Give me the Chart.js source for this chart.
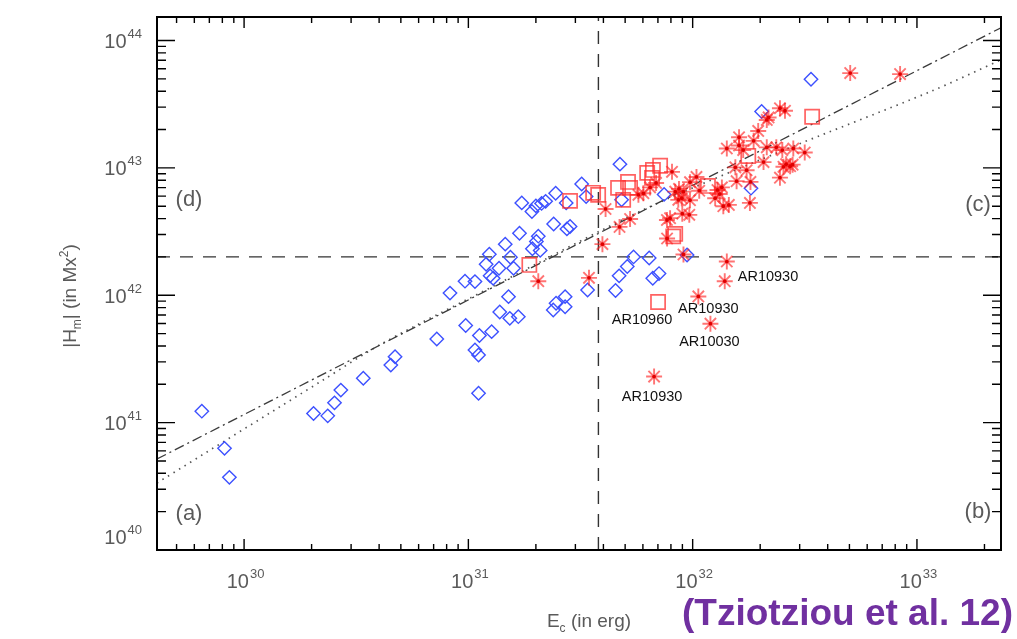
<!DOCTYPE html>
<html>
<head>
<meta charset="utf-8">
<script src="https://cdn.jsdelivr.net/npm/chart.js@4.4.1/dist/chart.umd.min.js"></script>
<style>
  html, body { margin: 0; padding: 0; background: #fff; }
  #wrap { width: 1017px; height: 639px; position: relative; }
</style>
</head>
<body>
<div id="wrap"><canvas id="chart"></canvas></div>
<script>
// ===== axis ranges =====
const xMin = 4.09e29, xMax = 2.37e33;   // E_c (erg)
const yMin = 1e40, yMax = 1.53e44;      // |H_m| (Mx^2)
const xDecades = [29, 30, 31, 32, 33];
const yDecades = [40, 41, 42, 43, 44];
const xTickValues = [1e30, 1e31, 1e32, 1e33];
const xTickExp = ['30', '31', '32', '33'];
const yTickValues = [1e40, 1e41, 1e42, 1e43, 1e44];
const yTickExp = ['40', '41', '42', '43', '44'];

// ===== blue diamonds =====
const blueE = [6.48e29, 8.18e29, 8.6e29, 2.04e30, 2.36e30, 2.53e30, 2.70e30, 3.40e30, 4.51e30, 4.71e30,
  7.23e30, 8.28e30, 9.66e30, 1.07e31, 1.20e31, 1.24e31, 1.25e31, 1.29e31, 1.37e31, 1.38e31,
  9.73e30, 1.12e31, 1.27e31, 1.07e31, 1.11e31, 1.11e31, 1.46e31, 1.54e31, 1.59e31, 1.69e31,
  1.73e31, 1.92e31, 2.0e31, 2.12e31, 2.21e31, 2.05e31, 2.01e31, 1.93e31, 2.09e31, 1.51e31,
  1.53e31, 1.67e31, 2.40e31, 2.75e31, 2.84e31, 2.45e31, 2.73e31, 3.20e31, 3.35e31, 4.74e31,
  4.82e31, 2.46e31, 2.39e31, 2.70e31, 2.70e31, 3.40e31, 5.45e31, 6.40e31, 5.11e31, 4.70e31,
  4.53e31, 6.64e31, 7.08e31, 9.44e31, 7.46e31, 1.82e32, 2.03e32, 3.37e32];
const blueH = [1.23e41, 6.28e40, 3.72e40, 1.18e41, 1.13e41, 1.43e41, 1.80e41, 2.23e41, 2.83e41, 3.29e41,
  4.54e41, 1.04e42, 1.29e42, 1.28e42, 1.75e42, 2.10e42, 1.42e42, 1.36e42, 1.63e42, 7.39e41,
  5.79e41, 4.83e41, 5.18e41, 3.72e41, 3.40e41, 1.70e41, 2.52e42, 1.99e42, 1.63e42, 3.07e42,
  5.31e42, 4.55e42, 5.03e42, 5.26e42, 5.46e42, 2.91e42, 2.64e42, 2.32e42, 2.25e42, 9.75e41,
  6.59e41, 6.79e41, 3.63e42, 3.32e42, 3.47e42, 6.32e42, 5.31e42, 7.48e42, 5.95e42, 1.07e43,
  5.61e42, 8.65e41, 7.67e41, 9.75e41, 8.13e41, 1.10e42, 2.0e42, 1.96e42, 1.68e42, 1.42e42,
  1.09e42, 1.36e42, 1.48e42, 2.07e42, 6.19e42, 6.93e42, 2.77e43, 4.97e43];

// ===== red squares =====
const squareE = [1.87e31, 2.84e31, 3.60e31, 3.79e31, 4.65e31, 4.90e31, 5.15e31, 5.26e31, 6.27e31,
  6.65e31, 6.59e31, 7.16e31, 8.36e31, 8.19e31, 1.17e32, 1.77e32, 3.41e32, 7.01e31];
const squareH = [1.73e42, 5.51e42, 6.37e42, 6.14e42, 6.97e42, 5.61e42, 7.76e42, 6.97e42, 9.14e42,
  9.64e42, 8.35e42, 1.04e43, 3.03e42, 2.90e42, 7.22e42, 1.24e43, 2.52e43, 8.86e41];

// ===== red asterisks =====
const starE = [2.05e31, 3.45e31, 3.96e31, 4.09e31, 4.72e31, 5.26e31, 5.73e31, 6.03e31, 6.46e31, 7.68e31,
  7.69e31, 8.09e31, 9.10e31, 1.06e32, 1.20e32, 6.73e31, 1.42e32, 1.39e32, 5.04e32, 8.41e32,
  2.45e32, 2.58e32, 2.18e32, 2.14e32, 1.96e32, 1.61e32, 1.61e32, 1.68e32, 1.87e32, 1.42e32,
  2.14e32, 2.36e32, 2.51e32, 2.81e32, 3.16e32, 2.07e32, 1.55e32, 1.74e32, 2.61e32, 2.72e32,
  2.54e32, 2.79e32, 2.45e32, 1.57e32, 1.81e32, 1.80e32, 1.04e32, 9.73e31, 8.69e31, 8.36e31,
  9.10e31, 8.94e31, 1.07e32, 1.29e32, 1.32e32, 1.26e32, 1.35e32, 8.63e31, 9.73e31, 1.45e32,
  1.37e32, 7.93e31, 8.99e31, 9.66e31, 6.87e31];
const starH = [1.29e42, 1.37e42, 2.52e42, 4.76e42, 3.44e42, 3.97e42, 6.14e42, 6.32e42, 7.03e42, 3.90e42,
  2.79e42, 9.31e42, 2.09e42, 9.79e41, 5.98e41, 2.30e41, 1.84e42, 1.29e42, 5.55e43, 5.45e43,
  2.94e43, 2.81e43, 2.49e43, 2.38e43, 1.95e43, 1.74e43, 1.50e43, 1.38e43, 1.63e43, 1.42e43,
  1.45e43, 1.45e43, 1.38e43, 1.42e43, 1.32e43, 1.11e43, 1.01e43, 9.59e42, 1.07e43, 1.03e43,
  1.02e43, 1.06e43, 8.38e42, 7.87e42, 7.76e42, 5.31e42, 8.49e42, 7.73e42, 6.84e42, 6.51e42,
  6.51e42, 5.78e42, 6.62e42, 6.71e42, 6.23e42, 5.78e42, 7.03e42, 5.61e42, 5.57e42, 5.12e42,
  5.00e42, 4.03e42, 4.37e42, 4.28e42, 7.62e42];

// ===== fits and thresholds =====
const fitE = [4.09e29, 2.37e33];            // dash-dot power law
const fitH = [5.18e40, 1.26e44];
const curveE = [4.09e29, 2.25e30, 4.17e30, 1.38e31, 6.01e31, 2.45e32, 1.14e33, 2.37e33]; // dotted
const curveH = [3.36e40, 2.16e41, 4.22e41, 1.25e42, 4.68e42, 1.34e43, 3.95e43, 7.05e43];
const eThresh = 3.8e31;
const hThresh = 2e42;

// ===== labelled active regions =====
const arNames = ['AR10930', 'AR10930', 'AR10960', 'AR10030', 'AR10930'];
const arE = [1.39e32, 1.06e32, 7.01e31, 1.20e32, 6.73e31];
const arH = [1.29e42, 9.79e41, 8.86e41, 5.98e41, 2.30e41];
const arOffsets = [[13, -4, 'left'], [10, 13, 'center'], [-16, 18, 'center'], [-1, 18, 'center'], [-2, 20, 'center']];

const FONT = '"Liberation Sans", Arial, sans-serif';
const GREY = '#5a5a5a';

const pts = (xs, ys) => xs.map((v, i) => ({ x: v, y: ys[i] }));

function powLabel(ctx, exp, x, yb, align) {
  ctx.font = '20px ' + FONT;
  const wb = ctx.measureText('10').width;
  ctx.font = '13px ' + FONT;
  const we = ctx.measureText(exp).width;
  const w = wb + 1 + we;
  const x0 = align === 'right' ? x - w : x - w / 2;
  ctx.textAlign = 'left';
  ctx.textBaseline = 'alphabetic';
  ctx.font = '20px ' + FONT;
  ctx.fillText('10', x0, yb);
  ctx.font = '13px ' + FONT;
  ctx.fillText(exp, x0 + wb + 1, yb - 10);
}

function richText(ctx, segs, cx, yb) {
  let w = 0;
  segs.forEach(s => { ctx.font = s.size + 'px ' + FONT; s.w = ctx.measureText(s.t).width; w += s.w; });
  let xx = cx - w / 2;
  ctx.textAlign = 'left';
  ctx.textBaseline = 'alphabetic';
  segs.forEach(s => {
    ctx.font = s.size + 'px ' + FONT;
    ctx.fillText(s.t, xx, yb + (s.dy || 0));
    xx += s.w;
  });
}

// frame, inward ticks, labels
const framePlugin = {
  id: 'frame',
  afterDraw(chart) {
    const { ctx, chartArea: a, scales: { x, y } } = chart;
    ctx.save();

    ctx.strokeStyle = '#000';
    ctx.lineWidth = 2;
    ctx.strokeRect(a.left, a.top, a.right - a.left, a.bottom - a.top);

    ctx.lineWidth = 1.4;
    ctx.beginPath();
    yDecades.forEach(n => {
      for (let m = 1; m < 10; m++) {
        const v = m * Math.pow(10, n);
        if (v <= yMin || v >= yMax) continue;
        const py = y.getPixelForValue(v);
        const len = m === 1 ? 18 : 9;
        ctx.moveTo(a.left, py); ctx.lineTo(a.left + len, py);
        ctx.moveTo(a.right, py); ctx.lineTo(a.right - len, py);
      }
    });
    xDecades.forEach(n => {
      for (let m = 1; m < 10; m++) {
        const v = m * Math.pow(10, n);
        if (v <= xMin || v >= xMax) continue;
        const px = x.getPixelForValue(v);
        const len = m === 1 ? 11 : 6;
        ctx.moveTo(px, a.bottom); ctx.lineTo(px, a.bottom - len);
        ctx.moveTo(px, a.top); ctx.lineTo(px, a.top + len);
      }
    });
    ctx.stroke();

    // tick labels
    ctx.fillStyle = GREY;
    yTickValues.forEach((v, i) => {
      let py = y.getPixelForValue(v);
      if (py > a.bottom - 10) py = a.bottom - 14;
      powLabel(ctx, yTickExp[i], a.left - 15, py + 7.6, 'right');
    });
    xTickValues.forEach((v, i) => {
      const px = x.getPixelForValue(v);
      powLabel(ctx, xTickExp[i], px + 1.5, a.bottom + 38, 'center');
    });

    // axis titles
    richText(ctx, [{ t: 'E', size: 19 }, { t: 'c', size: 12, dy: 5 }, { t: ' (in erg)', size: 19 }], 589, 627);
    ctx.save();
    ctx.translate(76, 296);
    ctx.rotate(-Math.PI / 2);
    richText(ctx, [{ t: '|H', size: 19 }, { t: 'm', size: 12, dy: 5 }, { t: '| (in Mx', size: 19 },
      { t: '2', size: 12, dy: -8 }, { t: ')', size: 19 }], 0, 0);
    ctx.restore();

    // quadrant tags
    ctx.font = '22px ' + FONT;
    ctx.textAlign = 'center';
    ctx.textBaseline = 'middle';
    ctx.fillText('(d)', a.left + 32, a.top + 183);
    ctx.fillText('(c)', a.right - 23, a.top + 188);
    ctx.fillText('(a)', a.left + 32, a.bottom - 36);
    ctx.fillText('(b)', a.right - 23, a.bottom - 38);

    // active region names
    ctx.fillStyle = '#111';
    ctx.font = '14.5px ' + FONT;
    arNames.forEach((name, i) => {
      const [dx, dy, al] = arOffsets[i];
      ctx.textAlign = al;
      ctx.fillText(name, x.getPixelForValue(arE[i]) + dx, y.getPixelForValue(arH[i]) + dy);
    });

    // citation
    ctx.fillStyle = '#7030A0';
    ctx.font = 'bold 37px ' + FONT;
    ctx.textAlign = 'right';
    ctx.textBaseline = 'alphabetic';
    ctx.fillText('(Tziotziou et al. 12)', 1013, 625);

    ctx.restore();
  }
};

new Chart(document.getElementById('chart'), {
  type: 'scatter',
  data: {
    datasets: [
      { label: 'star centres', data: pts(starE, starH), pointStyle: 'circle', pointRadius: 1.9,
        backgroundColor: '#e00000', borderWidth: 0 },
      { label: 'active regions (stars)', data: pts(starE, starH), pointStyle: 'star', pointRadius: 8,
        borderColor: 'rgba(255,30,30,0.62)', backgroundColor: 'transparent', borderWidth: 1.9 },
      { label: 'squares', data: pts(squareE, squareH), pointStyle: 'rect', pointRadius: 10,
        borderColor: 'rgba(255,45,45,0.75)', backgroundColor: 'transparent', borderWidth: 1.7 },
      { label: 'diamonds', data: pts(blueE, blueH), pointStyle: 'rectRot', pointRadius: 6.7,
        borderColor: 'rgb(60,80,255)', backgroundColor: 'transparent', borderWidth: 1.4 },
      { label: 'fit', type: 'line', data: pts(fitE, fitH), borderColor: '#3a3a3a', borderWidth: 1.3,
        borderDash: [10, 4, 2, 4], pointRadius: 0, fill: false },
      { label: 'curve', type: 'line', data: pts(curveE, curveH), borderColor: '#555', borderWidth: 1.7,
        borderDash: [1.5, 5], pointRadius: 0, fill: false, tension: 0.3 },
      { label: 'E threshold', type: 'line', data: [{ x: eThresh, y: yMin }, { x: eThresh, y: yMax }],
        borderColor: '#333', borderWidth: 1.4, borderDash: [13, 10], pointRadius: 0, fill: false },
      { label: 'H threshold', type: 'line', data: [{ x: xMin, y: hThresh }, { x: xMax, y: hThresh }],
        borderColor: '#333', borderWidth: 1.4, borderDash: [13, 10], pointRadius: 0, fill: false }
    ]
  },
  options: {
    responsive: true,
    maintainAspectRatio: false,
    animation: false,
    events: [],
    layout: { padding: { left: 157, top: 17, right: 16, bottom: 89 } },
    plugins: { legend: { display: false }, tooltip: { enabled: false } },
    scales: {
      x: { type: 'logarithmic', min: xMin, max: xMax, bounds: 'data', display: false },
      y: { type: 'logarithmic', min: yMin, max: yMax, bounds: 'data', display: false }
    }
  },
  plugins: [framePlugin]
});
</script>
</body>
</html>
